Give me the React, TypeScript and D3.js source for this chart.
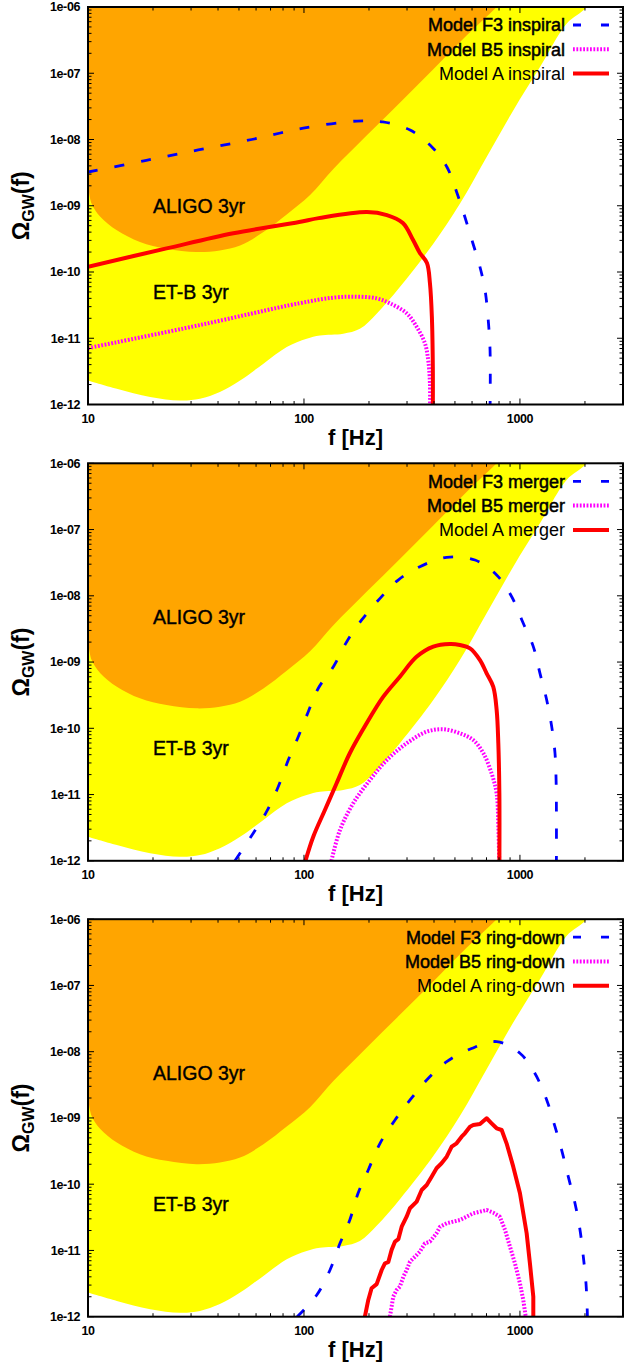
import React from "react";
import * as d3 from "d3";

// ---------- axes ----------
const FREQ_RANGE: [number, number] = [10, 3000];
const OMEGA_RANGE: [number, number] = [1e-12, 1e-6];
const X_TICKS = [10, 100, 1000];
const X_TICK_LABELS = ["10", "100", "1000"];
const Y_TICKS = [1e-12, 1e-11, 1e-10, 1e-9, 1e-8, 1e-7, 1e-6];
const Y_TICK_LABELS = ["1e-12", "1e-11", "1e-10", "1e-09", "1e-08", "1e-07", "1e-06"];
const X_LABEL = "f [Hz]";

// ---------- detector sensitivity regions ----------
const ALIGO_F = [10, 10.4, 11.4, 13.6, 17.4, 23.1, 31.8, 40.8, 50.6, 64.9, 83.2, 106.7, 136.8, 195, 278, 397, 566, 780, 1000];
const ALIGO_OMEGA = [2.15e-9, 1.07e-9, 6.8e-10, 4.25e-10, 2.84e-10, 2.25e-10, 2.0e-10, 2.12e-10, 2.52e-10, 4.0e-10, 7.4e-10, 1.45e-9, 3.6e-9, 1.15e-8, 3.6e-8, 1.15e-7, 3.7e-7, 1.0e-6, 2.3e-6];
const ET_F = [10, 13.6, 19.4, 26.7, 33.0, 40.8, 50.6, 64.9, 83.2, 102.9, 118.6, 152, 181.5, 217, 278, 397, 527, 701, 931, 1238, 1644, 2036, 2500];
const ET_OMEGA = [2.31e-12, 1.73e-12, 1.3e-12, 1.15e-12, 1.22e-12, 1.55e-12, 2.31e-12, 4.13e-12, 7.38e-12, 9.84e-12, 1.1e-11, 1.17e-11, 1.39e-11, 2.35e-11, 5.94e-11, 2.67e-10, 1.07e-9, 5.44e-9, 2.75e-8, 1.24e-7, 5.6e-7, 1.0e-6, 3.0e-6];
const REGION_LABELS = ["ALIGO 3yr", "ET-B 3yr"];
const REGION_LABEL_F = [20, 20];
const REGION_LABEL_OMEGA_TOP = [1e-9, 5e-11];
const REGION_LABEL_OMEGA_OTHER = [4.7e-9, 5e-11];

// ---------- inspiral ----------
const F3_INSP_F = [10, 18.4, 32.4, 57.3, 99.3, 175.8, 232, 310, 395, 459, 511, 556, 605, 653, 689, 711, 727, 727];
const F3_INSP_OMEGA = [3.23e-9, 4.8e-9, 6.95e-9, 1.0e-8, 1.48e-8, 1.9e-8, 1.84e-8, 1.39e-8, 7.45e-9, 3.85e-9, 1.56e-9, 6.76e-10, 2.74e-10, 1.19e-10, 5.35e-11, 2.1e-11, 6.65e-12, 8e-13];
const B5_INSP_F = [10, 32.9, 95, 136.8, 175.4, 217, 250, 299, 332.5, 363, 376, 383, 383];
const B5_INSP_OMEGA = [7.1e-12, 1.58e-11, 3.37e-11, 4.1e-11, 4.24e-11, 4.0e-11, 3.37e-11, 2.38e-11, 1.49e-11, 8.4e-12, 4.7e-12, 2.1e-12, 8e-13];
const A_INSP_F = [10, 23.1, 47.1, 95, 117, 195.7, 242, 287, 320, 344, 371, 383, 391, 395, 395];
const A_INSP_OMEGA = [1.2e-10, 2.27e-10, 3.84e-10, 5.7e-10, 6.5e-10, 8.05e-10, 7.24e-10, 5.5e-10, 3.04e-10, 1.94e-10, 1.37e-10, 6.8e-11, 2.1e-11, 3.7e-12, 8e-13];

// ---------- merger ----------
const F3_MERG_F = [47.9, 58.2, 67.1, 76.0, 84.6, 94.1, 104.7, 116.5, 136.8, 157.8, 185, 225, 273, 344, 458, 619, 780, 916, 1036, 1153, 1238, 1330, 1403, 1453, 1470, 1475, 1475];
const F3_MERG_OMEGA = [1e-12, 2.6e-12, 5.51e-12, 1.31e-11, 3.32e-11, 7.46e-11, 1.78e-10, 4.02e-10, 8.51e-10, 2.03e-9, 4.32e-9, 9.16e-9, 1.73e-8, 2.75e-8, 3.81e-8, 3.47e-8, 2.06e-8, 9.68e-9, 3.85e-9, 1.71e-9, 6.76e-10, 2.67e-10, 1.06e-10, 4.2e-11, 1.66e-11, 5.85e-12, 8e-13];
const B5_MERG_F = [134, 146.8, 169, 202, 242, 299, 370, 441, 527, 608, 677, 739, 780, 794, 803];
const B5_MERG_OMEGA = [1e-12, 2.92e-12, 7.38e-12, 1.66e-11, 3.32e-11, 5.94e-11, 8.89e-11, 9.66e-11, 8.41e-11, 6.65e-11, 4.2e-11, 2.09e-11, 1.04e-11, 3.27e-12, 8e-13];
const A_MERG_F = [101.6, 110.4, 125, 141.6, 163, 195, 233, 278, 332, 397, 474, 527, 587, 653, 701, 752, 780, 794, 803, 803];
const A_MERG_OMEGA = [1e-12, 2.31e-12, 5.85e-12, 1.48e-11, 4.2e-11, 1.19e-10, 3.0e-10, 6.01e-10, 1.2e-9, 1.71e-9, 1.87e-9, 1.81e-9, 1.61e-9, 1.07e-9, 6.76e-10, 4.25e-10, 1.89e-10, 5.94e-11, 1.04e-11, 8e-13];

// ---------- ring-down ----------
const F3_RING_F = [93, 114.6, 132, 146.8, 163, 178, 198.5, 225, 264, 310, 370, 458, 597, 780, 1000, 1172, 1330, 1453, 1560, 1674, 1798, 1897, 1965, 2022, 2051, 2055];
const F3_RING_OMEGA = [1e-12, 2.13e-12, 5.07e-12, 1.28e-11, 2.88e-11, 7.3e-11, 1.64e-10, 4.14e-10, 9.31e-10, 1.87e-9, 3.74e-9, 7.06e-9, 1.12e-8, 1.42e-8, 9.46e-9, 4.72e-9, 1.87e-9, 7.38e-10, 3.28e-10, 1.3e-10, 5.15e-11, 2.04e-11, 8.05e-12, 3.19e-12, 1.13e-12, 8e-13];
const B5_RING_F = [250, 259, 268.5, 278, 288.6, 299, 309.5, 332.5, 344, 363, 383, 411, 426.6, 458, 491, 527, 566, 608, 653, 701, 752, 807, 853, 899, 948, 1000, 1036, 1074];
const B5_RING_OMEGA = [1e-12, 2.0e-12, 2.53e-12, 2.84e-12, 4.02e-12, 5.07e-12, 6.76e-12, 8.53e-12, 9.57e-12, 1.28e-11, 1.36e-11, 1.82e-11, 2.28e-11, 2.57e-11, 2.72e-11, 2.88e-11, 3.23e-11, 3.64e-11, 3.85e-11, 4.08e-11, 3.72e-11, 3.23e-11, 2.04e-11, 1.14e-11, 6.4e-12, 3.19e-12, 1.79e-12, 8e-13];
const A_RING_F = [191.4, 198.5, 205.6, 217, 229, 237, 245.6, 254.6, 264, 273.5, 283.4, 298.7, 309.5, 332.5, 350.8, 370, 390, 411, 433.6, 458, 483, 509, 537, 556, 587, 608, 653, 701, 739, 780, 823, 867, 931, 1000, 1074, 1112, 1153, 1153];
const A_RING_OMEGA = [1e-12, 1.79e-12, 2.69e-12, 3.1e-12, 5.07e-12, 6.4e-12, 6.65e-12, 1.02e-11, 1.36e-11, 1.48e-11, 2.28e-11, 3.23e-11, 4.33e-11, 5.45e-11, 8.17e-11, 9.72e-11, 1.3e-10, 1.74e-10, 2.07e-10, 2.6e-10, 3.68e-10, 4.14e-10, 5.21e-10, 5.86e-10, 7.38e-10, 7.83e-10, 8.11e-10, 9.89e-10, 8.3e-10, 6.98e-10, 6.58e-10, 4.14e-10, 1.84e-10, 7.3e-11, 1.82e-11, 6.4e-12, 2.0e-12, 8e-13];

const MODEL_NAMES = ["Model F3", "Model B5", "Model A"];
const PHASES = ["inspiral", "merger", "ring-down"];

// ---------- layout / style ----------
const W = 624;
const H = 1363;
const PLOT_L = 88;
const PLOT_R = 623;
const PANEL_TOPS = [7, 463.3, 919.2];
const PANEL_H = 397.5;
const FONT = "'Liberation Sans', Arial, Helvetica, sans-serif";

const SERIES_STYLE = [
  { color: "#0000ff", width: 2.8, dash: "10,17" },
  { color: "#ff00ff", width: 4, dash: "1.8,1.6" },
  { color: "#ff0000", width: 4, dash: "" },
];

type Pt = [number, number];
const zip = (a: number[], b: number[]): Pt[] => a.map((v, i) => [v, b[i]]);

const PANEL_SERIES: Pt[][][] = [
  [zip(F3_INSP_F, F3_INSP_OMEGA), zip(B5_INSP_F, B5_INSP_OMEGA), zip(A_INSP_F, A_INSP_OMEGA)],
  [zip(F3_MERG_F, F3_MERG_OMEGA), zip(B5_MERG_F, B5_MERG_OMEGA), zip(A_MERG_F, A_MERG_OMEGA)],
  [zip(F3_RING_F, F3_RING_OMEGA), zip(B5_RING_F, B5_RING_OMEGA), zip(A_RING_F, A_RING_OMEGA)],
];

function minorTicks(lo: number, hi: number): number[] {
  const out: number[] = [];
  for (let e = Math.floor(Math.log10(lo)); e <= Math.ceil(Math.log10(hi)); e++) {
    for (let k = 2; k <= 9; k++) {
      const v = k * Math.pow(10, e);
      if (v > lo && v < hi) out.push(v);
    }
  }
  return out;
}

function Panel({ idx }: { idx: number }) {
  const top = PANEL_TOPS[idx];
  const bottom = top + PANEL_H;
  const x = d3.scaleLog().domain(FREQ_RANGE).range([PLOT_L, PLOT_R]);
  const y = d3.scaleLog().domain(OMEGA_RANGE).range([bottom, top]);
  const clipId = `clip${idx}`;

  const area = d3
    .area<Pt>()
    .x((d) => x(d[0]))
    .y0(top - 10)
    .y1((d) => y(d[1]))
    .curve(d3.curveCatmullRom.alpha(0.5));

  const smooth = d3
    .line<Pt>()
    .x((d) => x(d[0]))
    .y((d) => y(d[1]))
    .curve(d3.curveCatmullRom.alpha(0.5));
  const linear = d3
    .line<Pt>()
    .x((d) => x(d[0]))
    .y((d) => y(d[1]));

  const series = PANEL_SERIES[idx];
  const xMinor = minorTicks(FREQ_RANGE[0], FREQ_RANGE[1]);
  const yMinor = minorTicks(OMEGA_RANGE[0], OMEGA_RANGE[1]);
  const MAJ = 6;
  const MIN = 3.5;
  const labelOmega = idx === 0 ? REGION_LABEL_OMEGA_TOP : REGION_LABEL_OMEGA_OTHER;

  return (
    <g>
      <defs>
        <clipPath id={clipId}>
          <rect x={PLOT_L} y={top} width={PLOT_R - PLOT_L} height={PANEL_H} />
        </clipPath>
      </defs>
      <g clipPath={`url(#${clipId})`}>
        <path d={area(zip(ET_F, ET_OMEGA)) || ""} fill="#ffff00" />
        <path d={area(zip(ALIGO_F, ALIGO_OMEGA)) || ""} fill="#ffa500" />
        {series.map((pts, i) => (
          <path
            key={i}
            d={(idx === 2 && i > 0 ? linear(pts) : smooth(pts)) || ""}
            fill="none"
            stroke={SERIES_STYLE[i].color}
            strokeWidth={SERIES_STYLE[i].width}
            strokeDasharray={SERIES_STYLE[i].dash || undefined}
            strokeLinejoin="round"
          />
        ))}
      </g>
      {/* region labels */}
      {REGION_LABELS.map((t, i) => (
        <text
          key={t}
          x={x(REGION_LABEL_F[i])}
          y={y(labelOmega[i])}
          dy="0.35em"
          fontSize={19.5}
          fontFamily={FONT}
          fill="#000"
          stroke="#000"
          strokeWidth={0.4}
        >
          {t}
        </text>
      ))}
      {/* ticks */}
      <g stroke="#000" strokeWidth={1}>
        {X_TICKS.map((t) => (
          <g key={`xm${t}`}>
            <line x1={x(t)} x2={x(t)} y1={bottom} y2={bottom - MAJ} />
            <line x1={x(t)} x2={x(t)} y1={top} y2={top + MAJ} />
          </g>
        ))}
        {xMinor.map((t) => (
          <g key={`xn${t}`}>
            <line x1={x(t)} x2={x(t)} y1={bottom} y2={bottom - MIN} />
            <line x1={x(t)} x2={x(t)} y1={top} y2={top + MIN} />
          </g>
        ))}
        {Y_TICKS.map((t) => (
          <g key={`ym${t}`}>
            <line x1={PLOT_L} x2={PLOT_L + MAJ} y1={y(t)} y2={y(t)} />
            <line x1={PLOT_R} x2={PLOT_R - MAJ} y1={y(t)} y2={y(t)} />
          </g>
        ))}
        {yMinor.map((t) => (
          <g key={`yn${t}`}>
            <line x1={PLOT_L} x2={PLOT_L + MIN} y1={y(t)} y2={y(t)} />
            <line x1={PLOT_R} x2={PLOT_R - MIN} y1={y(t)} y2={y(t)} />
          </g>
        ))}
      </g>
      <rect x={PLOT_L} y={top} width={PLOT_R - PLOT_L} height={PANEL_H} fill="none" stroke="#000" strokeWidth={2} />
      {/* tick labels */}
      {Y_TICKS.map((t, i) => (
        <text
          key={`yl${t}`}
          x={PLOT_L - 8}
          y={y(t)}
          dy="0.35em"
          textAnchor="end"
          fontSize={12.5}
          fontWeight="bold"
          letterSpacing={-0.4}
          fontFamily={FONT}
        >
          {Y_TICK_LABELS[i]}
        </text>
      ))}
      {X_TICKS.map((t, i) => (
        <text
          key={`xl${t}`}
          x={x(t)}
          y={bottom + 14}
          dy="0.35em"
          textAnchor="middle"
          fontSize={12.5}
          fontWeight="bold"
          letterSpacing={-0.4}
          fontFamily={FONT}
        >
          {X_TICK_LABELS[i]}
        </text>
      ))}
      <text
        x={(PLOT_L + PLOT_R) / 2}
        y={bottom + 40}
        textAnchor="middle"
        fontSize={22}
        fontWeight="bold"
        fontFamily={FONT}
      >
        {X_LABEL}
      </text>
      <text
        transform={`translate(29, ${top + PANEL_H / 2}) rotate(-90)`}
        textAnchor="middle"
        fontSize={23}
        fontWeight="bold"
        fontFamily={FONT}
      >
        Ω<tspan fontSize={16} dy={5}>GW</tspan>
        <tspan dy={-5}>(f)</tspan>
      </text>
      {/* legend */}
      {MODEL_NAMES.map((m, i) => {
        const ly = top + 18 + i * 24.3;
        const st = SERIES_STYLE[i];
        return (
          <g key={m}>
            <text
              x={565}
              y={ly}
              dy="0.35em"
              textAnchor="end"
              fontSize={18}
              fontFamily={FONT}
              fill="#000"
              stroke={i < 2 ? "#000" : "none"}
              strokeWidth={i < 2 ? 0.5 : 0}
            >
              {`${m} ${PHASES[idx]}`}
            </text>
            <line
              x1={573}
              x2={609}
              y1={ly}
              y2={ly}
              stroke={st.color}
              strokeWidth={i === 0 ? 2.8 : 4}
              strokeDasharray={i === 0 ? "8,20" : st.dash || undefined}
            />
          </g>
        );
      })}
    </g>
  );
}

export default function App() {
  return (
    <svg
      width={W}
      height={H}
      viewBox={`0 0 ${W} ${H}`}
      style={{ position: "absolute", left: 0, top: 0, background: "#fff" }}
    >
      <rect x={0} y={0} width={W} height={H} fill="#fff" />
      {PANEL_TOPS.map((_, i) => (
        <Panel key={i} idx={i} />
      ))}
    </svg>
  );
}
